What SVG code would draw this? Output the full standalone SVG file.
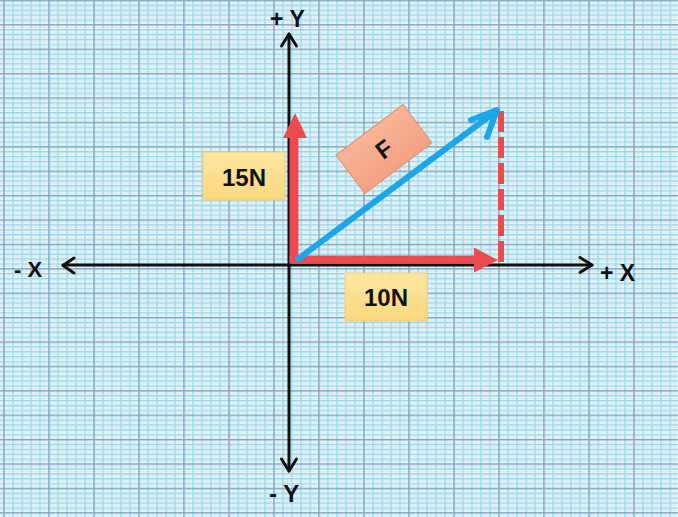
<svg xmlns="http://www.w3.org/2000/svg" width="678" height="517" viewBox="0 0 678 517">
<style>
.lbl{font-family:"Liberation Sans",Arial,sans-serif;font-weight:bold;fill:#111;}
.axis{stroke:#111;stroke-width:3;fill:none;stroke-linecap:round;stroke-linejoin:round;}
</style>
<defs>
<pattern id="grid" patternUnits="userSpaceOnUse" x="3.25" y="-0.25" width="45" height="24.4">
<rect width="45" height="24.4" fill="#eaf7fb"/>
<path d="M5.25 0V24.4M14.25 0V24.4M23.25 0V24.4M32.25 0V24.4M41.25 0V24.4M0 3.2H45M0 8.1H45M0 13H45M0 17.8H45M0 22.7H45" stroke="#cdebf3" stroke-width="0.8"/>
<path d="M9.75 0V24.4M18.75 0V24.4M27.75 0V24.4M36.75 0V24.4M0 5.6H45M0 10.5H45M0 15.4H45M0 20.3H45" stroke="#9ed5e7" stroke-width="1.3"/>
<path d="M0.75 0V24.4M0 0.75H45" stroke="#7fa6bf" stroke-width="1.5"/>
</pattern>
<linearGradient id="yel" x1="0" y1="0" x2="0" y2="1">
<stop offset="0" stop-color="#fde7a0"/>
<stop offset="1" stop-color="#f9d77f"/>
</linearGradient>
<linearGradient id="org" x1="0" y1="0" x2="0" y2="1">
<stop offset="0" stop-color="#f8b496"/>
<stop offset="1" stop-color="#f3a283"/>
</linearGradient>
</defs>
<rect width="678" height="517" fill="url(#grid)"/>

<g id="connectors">
<g id="x-axis">
<path class="axis" d="M63 265H592"/>
<path class="axis" d="M74 258L63 265.5L74 273"/>
<path class="axis" d="M580 257.5L592 265L580 272.5"/>
</g>
<g id="y-axis">
<path class="axis" d="M289 34V471"/>
<path class="axis" d="M281.5 46L289 34L296.5 46"/>
<path class="axis" d="M281.5 459L289 471L296.5 459"/>
</g>
<g id="dashed-line">
<path d="M501 262V107" stroke="#ec4a4f" stroke-width="6" stroke-dasharray="21 5" fill="none"/>
</g>
<g id="fy-arrow">
<path d="M294 263V134" stroke="#ec4a4f" stroke-width="9" fill="none"/>
<path d="M295 113L307 138L283 138Z" fill="#ec4a4f"/>
<path d="M289.5 259.5H477" stroke="#ec4a4f" stroke-width="8" fill="none"/>
</g>
<g id="fx-arrow">
<path d="M498 260L474 272.5L474 247.5Z" fill="#ec4a4f"/>
</g>
<g id="f-arrow">
<path d="M298 259L495 112" stroke="#1ba6ea" stroke-width="6" stroke-linecap="round" fill="none"/>
<path d="M471 120L497 110L487 137" stroke="#1ba6ea" stroke-width="6" stroke-linecap="round" stroke-linejoin="round" fill="none"/>
</g>
</g>

<g id="label-15N">
<rect x="203" y="152" width="82" height="48" fill="url(#yel)" stroke="#f1cc7a" stroke-width="1"/>
<text class="lbl" x="244" y="186" font-size="24" text-anchor="middle">15N</text>
</g>
<g id="label-10N">
<rect x="345" y="273" width="82" height="48" fill="url(#yel)" stroke="#f1cc7a" stroke-width="1"/>
<text class="lbl" x="386" y="306" font-size="24" text-anchor="middle">10N</text>
</g>
<g id="label-F" transform="translate(384 149) rotate(-37)">
<rect x="-42" y="-24" width="84" height="48" fill="url(#org)" stroke="#e8906d" stroke-width="1"/>
<text class="lbl" x="0" y="8.5" font-size="24" text-anchor="middle">F</text>
</g>

<g id="axis-labels">
<text class="lbl" x="14" y="277" font-size="22">- X</text>
<text class="lbl" x="600" y="281" font-size="23">+ X</text>
<text class="lbl" x="270" y="27" font-size="23">+ Y</text>
<text class="lbl" x="269" y="502" font-size="24">- Y</text>
</g>
</svg>
